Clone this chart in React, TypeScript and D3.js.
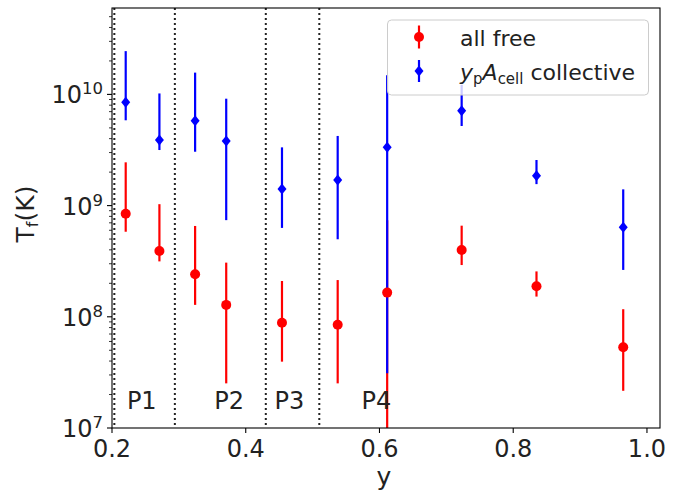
import React from "react";
import * as d3 from "d3";

// ---- data ----
const yValues = [0.2205, 0.2709, 0.3243, 0.3708, 0.4542, 0.5375, 0.6115, 0.7229, 0.8348, 0.9645];

const freeVal = [8.45e8, 3.91e8, 2.41e8, 1.28e8, 8.85e7, 8.49e7, 1.65e8, 3.99e8, 1.88e8, 5.32e7];
const freeLow = [5.82e8, 3.15e8, 1.28e8, 2.52e7, 3.95e7, 2.52e7, 1e5, 2.92e8, 1.52e8, 2.16e7];
const freeHigh = [2.45e9, 1.03e9, 6.56e8, 3.07e8, 2.1e8, 2.14e8, 7.4e8, 6.6e8, 2.56e8, 1.17e8];

const collVal = [8.5e9, 3.89e9, 5.8e9, 3.81e9, 1.41e9, 1.7e9, 3.34e9, 7.13e9, 1.86e9, 6.38e8];
const collLow = [5.85e9, 3.16e9, 3.05e9, 7.4e8, 6.3e8, 4.98e8, 3.1e7, 5.2e9, 1.56e9, 2.64e8];
const collHigh = [2.45e10, 1.02e10, 1.57e10, 9.15e9, 3.34e9, 4.23e9, 1.49e10, 1.22e10, 2.57e9, 1.4e9];

const phaseBoundaries = [0.2035, 0.294, 0.43, 0.51];
const phaseLabels = ["P1", "P2", "P3", "P4"];
const phaseLabelX = [0.2445, 0.3753, 0.4652, 0.5955];
const phaseLabelY = 1.48e7;

const xTicks = [0.2, 0.4, 0.6, 0.8, 1.0];
const yTickExps = [7, 8, 9, 10];

// ---- layout ----
const W = 694;
const H = 493;
const L = 112;
const R = 660;
const T = 8;
const B = 428;
const FONT = "DejaVu Sans, sans-serif";
const RED = "#ff0000";
const BLUE = "#0000ff";

const x = d3.scaleLinear().domain([0.2, 1.0195]).range([L, R]);
const y = d3.scaleLog().domain([1e7, Math.pow(10, 10.777)]).range([B, T]);

const diamond = (cx: number, cy: number, w: number, h: number) =>
  `M${cx},${cy - h / 2}L${cx + w / 2},${cy}L${cx},${cy + h / 2}L${cx - w / 2},${cy}Z`;

export default function App() {
  const minorTicks: number[] = [];
  for (let e = 7; e <= 10; e++) {
    for (let m = 2; m <= 9; m++) {
      const v = m * Math.pow(10, e);
      if (v <= y.domain()[1]) minorTicks.push(v);
    }
  }

  return (
    <svg
      width={W}
      height={H}
      style={{ position: "absolute", left: 0, top: 0, background: "#fff" }}
      fontFamily={FONT}
    >
      <defs>
        <clipPath id="plot">
          <rect x={L} y={T} width={R - L} height={B - T} />
        </clipPath>
      </defs>
      <rect x={0} y={0} width={W} height={H} fill="#fff" />

      {/* phase boundaries */}
      {phaseBoundaries.map((b, i) => (
        <line
          key={"pb" + i}
          x1={x(b)}
          x2={x(b)}
          y1={T}
          y2={B}
          stroke="#222"
          strokeWidth={2}
          strokeDasharray="2,3"
        />
      ))}

      <g clipPath="url(#plot)">
        {/* error bars */}
        {yValues.map((v, i) => (
          <line
            key={"fe" + i}
            x1={x(v)}
            x2={x(v)}
            y1={y(freeLow[i])}
            y2={y(freeHigh[i])}
            stroke={RED}
            strokeWidth={2.2}
          />
        ))}
        {yValues.map((v, i) => (
          <line
            key={"ce" + i}
            x1={x(v)}
            x2={x(v)}
            y1={y(collLow[i])}
            y2={y(collHigh[i])}
            stroke={BLUE}
            strokeWidth={2.2}
          />
        ))}
        {/* markers */}
        {yValues.map((v, i) => (
          <circle key={"fm" + i} cx={x(v)} cy={y(freeVal[i])} r={5} fill={RED} />
        ))}
        {yValues.map((v, i) => (
          <path key={"cm" + i} d={diamond(x(v), y(collVal[i]), 9, 11)} fill={BLUE} />
        ))}
      </g>

      {/* phase labels */}
      {phaseLabels.map((p, i) => (
        <text
          key={"pl" + i}
          x={x(phaseLabelX[i])}
          y={y(phaseLabelY)}
          textAnchor="middle"
          fontSize={24}
          fill="#222"
        >
          {p}
        </text>
      ))}

      {/* spines */}
      <rect x={L} y={T} width={R - L} height={B - T} fill="none" stroke="#000" strokeWidth={1.1} />

      {/* x ticks */}
      {xTicks.map((t, i) => (
        <g key={"xt" + i}>
          <line x1={x(t)} x2={x(t)} y1={B} y2={B + 5} stroke="#000" strokeWidth={1.1} />
          <text x={x(t)} y={B + 29} textAnchor="middle" fontSize={24} fill="#222">
            {d3.format(".1f")(t)}
          </text>
        </g>
      ))}

      {/* y ticks */}
      {minorTicks.map((t, i) => (
        <line key={"ym" + i} x1={L - 3} x2={L} y1={y(t)} y2={y(t)} stroke="#000" strokeWidth={0.8} />
      ))}
      {yTickExps.map((e, i) => {
        const yy = y(Math.pow(10, e));
        return (
          <g key={"yt" + i}>
            <line x1={L - 5} x2={L} y1={yy} y2={yy} stroke="#000" strokeWidth={1.1} />
            <text x={L - 9} y={yy + 9} textAnchor="end" fontSize={24} fill="#222">
              10
              <tspan fontSize={16.5} dy={-9}>
                {String(e)}
              </tspan>
            </text>
          </g>
        );
      })}

      {/* axis labels */}
      <text x={384} y={485} textAnchor="middle" fontSize={25} fill="#222">
        y
      </text>
      <text
        transform="translate(34,214) rotate(-90)"
        textAnchor="middle"
        fontSize={25}
        fill="#222"
      >
        T
        <tspan fontSize={16} dy={4}>
          f
        </tspan>
        <tspan dy={-4}>(K)</tspan>
      </text>

      {/* legend */}
      <g>
        <rect
          x={387.5}
          y={20}
          width={261}
          height={75}
          rx={4}
          fill="#fff"
          fillOpacity={0.8}
          stroke="#cccccc"
          strokeWidth={1}
        />
        <line x1={419} x2={419} y1={25.5} y2={48.5} stroke={RED} strokeWidth={2.2} />
        <circle cx={419} cy={37} r={5} fill={RED} />
        <text x={460} y={46} fontSize={22} fill="#222">
          all free
        </text>
        <line x1={419} x2={419} y1={60} y2={82} stroke={BLUE} strokeWidth={2.2} />
        <path d={diamond(419, 71, 9, 11)} fill={BLUE} />
        <text x={460} y={80} fontSize={22} fill="#222">
          <tspan fontStyle="italic">y</tspan>
          <tspan fontSize={15} dy={4}>p</tspan>
          <tspan fontStyle="italic" dy={-4}>A</tspan>
          <tspan fontSize={15} dy={4}>cell</tspan>
          <tspan dy={-4}> collective</tspan>
        </text>
      </g>
    </svg>
  );
}
